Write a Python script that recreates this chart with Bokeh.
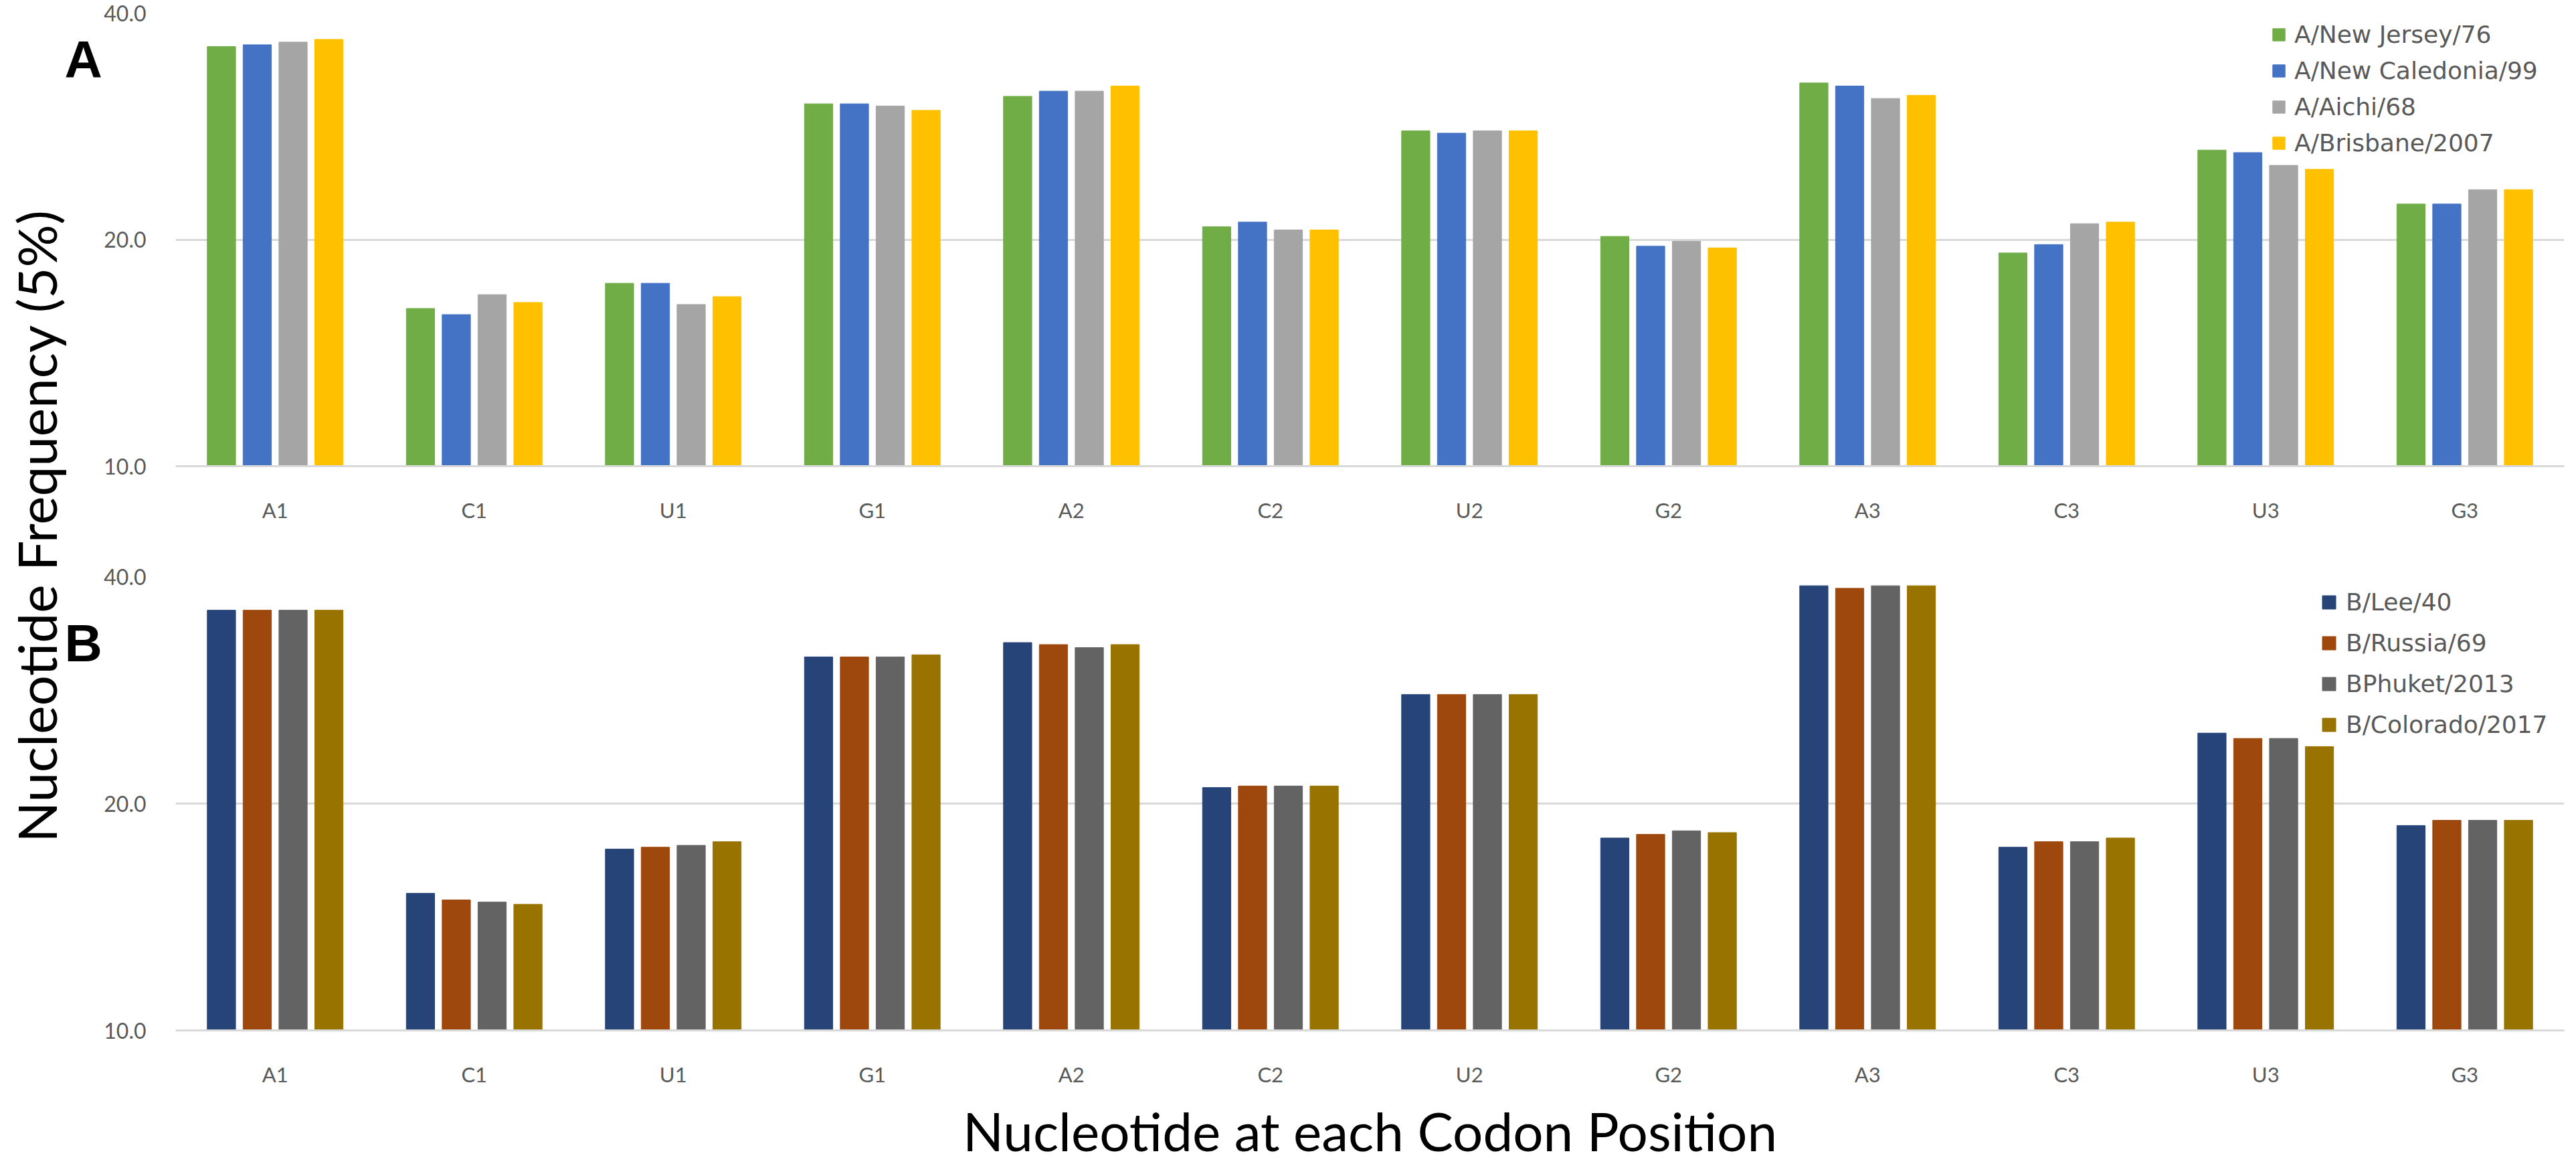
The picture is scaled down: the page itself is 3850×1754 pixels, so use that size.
import math
from bokeh.plotting import figure
from bokeh.models import (FactorRange, Range1d, FixedTicker, PrintfTickFormatter,
                          Legend, LegendItem, Label)
from bokeh.layouts import row, column
from bokeh.transform import dodge
from bokeh.embed import file_html
from bokeh.resources import INLINE

# ---------------- data ----------------
categories = ["A1", "C1", "U1", "G1", "A2", "C2", "U2", "G2", "A3", "C3", "U3", "G3"]

a_names = ["A/New Jersey/76", "A/New Caledonia/99", "A/Aichi/68", "A/Brisbane/2007"]
a_new_jersey_76 = [36.1, 16.2, 17.5, 30.3, 31.0, 20.8, 27.9, 20.2, 32.3, 19.2, 26.3, 22.3]
a_new_caledonia_99 = [36.3, 15.9, 17.5, 30.3, 31.5, 21.1, 27.7, 19.6, 32.0, 19.7, 26.1, 22.3]
a_aichi_68 = [36.6, 16.9, 16.4, 30.1, 31.5, 20.6, 27.9, 19.9, 30.8, 21.0, 25.1, 23.3]
a_brisbane_2007 = [36.9, 16.5, 16.8, 29.7, 32.0, 20.6, 27.9, 19.5, 31.1, 21.1, 24.8, 23.3]

b_names = ["B/Lee/40", "B/Russia/69", "BPhuket/2013", "B/Colorado/2017"]
b_lee_40 = [36.1, 15.2, 17.4, 31.3, 32.7, 21.0, 27.9, 18.0, 38.9, 17.5, 24.8, 18.7]
b_russia_69 = [36.1, 14.9, 17.5, 31.3, 32.5, 21.1, 27.9, 18.2, 38.6, 17.8, 24.4, 19.0]
b_phuket_2013 = [36.1, 14.8, 17.6, 31.3, 32.2, 21.1, 27.9, 18.4, 38.9, 17.8, 24.4, 19.0]
b_colorado_2017 = [36.1, 14.7, 17.8, 31.5, 32.5, 21.1, 27.9, 18.3, 38.9, 18.0, 23.8, 19.0]

y_ticks = [10, 20, 40]
y_title = "Nucleotide Frequency (5%)"
x_title = "Nucleotide at each Codon Position"
panel_labels = ["A", "B"]

# ---------------- style / layout ----------------
a_colors = ["#70AD47", "#4472C4", "#A5A5A5", "#FFC000"]
b_colors = ["#264478", "#9E480E", "#636363", "#997300"]
offsets = [-0.27, -0.09, 0.09, 0.27]
bar_w = 0.142
GRID = "#D9D9D9"
TXT = "#595959"
TICK_FONT = "Lato"

LEFT_W = 152
FIG_W = 3682
H_A, H_B, H_X = 792, 837, 109
TOTAL_H = H_A + H_B + H_X


def make_panel(series, names, colors, height, top, bottom, legend_loc,
               glyph, lab_h, standoff):
    p = figure(width=FIG_W, height=height, x_range=FactorRange(*categories, range_padding=0),
               y_range=Range1d(10, 40), y_axis_type="log",
               output_backend="svg", toolbar_location=None,
               min_border_left=110, min_border_right=2,
               min_border_top=top, min_border_bottom=bottom)
    p.outline_line_color = None
    p.background_fill_color = "white"
    p.border_fill_color = "white"
    p.xgrid.grid_line_color = None
    tick = FixedTicker(ticks=y_ticks)
    p.yaxis.ticker = tick
    p.ygrid.ticker = tick
    p.ygrid.grid_line_color = GRID
    p.ygrid.grid_line_width = 3
    p.yaxis.formatter = PrintfTickFormatter(format="%.1f")
    p.yaxis.axis_line_color = None
    p.yaxis.major_tick_line_color = None
    p.yaxis.minor_tick_line_color = None
    p.yaxis.major_label_standoff = 38
    p.yaxis.major_label_text_font = TICK_FONT
    p.yaxis.major_label_text_font_size = "32px"
    p.yaxis.major_label_text_color = TXT
    p.xaxis.axis_line_color = GRID
    p.xaxis.axis_line_width = 3
    p.xaxis.major_tick_line_color = None
    p.xaxis.minor_tick_line_color = None
    p.xaxis.major_label_standoff = 40
    p.xaxis.major_label_text_font = TICK_FONT
    p.xaxis.major_label_text_font_size = "31px"
    p.xaxis.major_label_text_color = TXT

    items = []
    for vals, name, col, off in zip(series, names, colors, offsets):
        src = {"cat": categories, "val": vals}
        r = p.vbar(x=dodge("cat", off, range=p.x_range), top="val", bottom=10,
                   width=bar_w, source=src, fill_color=col, line_color=col,
                   line_width=1)
        items.append(LegendItem(label=name, renderers=[r]))
    leg = Legend(items=items, location=legend_loc, orientation="vertical",
                 glyph_width=glyph, glyph_height=glyph, label_height=lab_h,
                 label_standoff=standoff, spacing=0, padding=0, margin=0,
                 border_line_color=None, background_fill_alpha=0,
                 label_text_font="DejaVu Sans", label_text_font_size="36px",
                 label_text_color=TXT)
    p.add_layout(leg)
    return p


pA = make_panel([a_new_jersey_76, a_new_caledonia_99, a_aichi_68, a_brisbane_2007],
                a_names, a_colors, H_A, 19, 96, (3132, 456), 23, 54, 12)
pB = make_panel([b_lee_40, b_russia_69, b_phuket_2013, b_colorado_2017],
                b_names, b_colors, H_B, 69, 90, (3206, 426), 25, 61, 13)

# x-axis title strip
xt = figure(width=FIG_W, height=H_X, x_range=Range1d(0, FIG_W), y_range=Range1d(H_X, 0),
            output_backend="svg", toolbar_location=None, min_border=0, title=None)
xt.axis.visible = False
xt.grid.visible = False
xt.outline_line_color = None
xt.add_layout(Label(x=1841, y=H_X - 2, text=x_title, text_font="Lato",
                    text_font_size="80px", text_color="black",
                    text_align="center", text_baseline="bottom"))

# left strip: y-axis title and panel letters
lf = figure(width=LEFT_W, height=TOTAL_H, x_range=Range1d(0, LEFT_W),
            y_range=Range1d(TOTAL_H, 0), output_backend="svg", toolbar_location=None,
            min_border=0, title=None)
lf.axis.visible = False
lf.grid.visible = False
lf.outline_line_color = None
lf.add_layout(Label(x=53, y=785, text=y_title, angle=math.pi / 2, text_font="Lato",
                    text_font_size="80px", text_color="black",
                    text_align="center", text_baseline="alphabetic"))
for txt, yt_ in zip(panel_labels, [44, 916]):
    lf.add_layout(Label(x=96, y=yt_, text=txt, text_font="Liberation Sans",
                        text_font_style="bold", text_font_size="78px",
                        text_color="black", text_align="left",
                        text_baseline="top"))

layout = row(lf, column(pA, pB, xt))
open("out.html", "w").write(file_html(layout, INLINE))
